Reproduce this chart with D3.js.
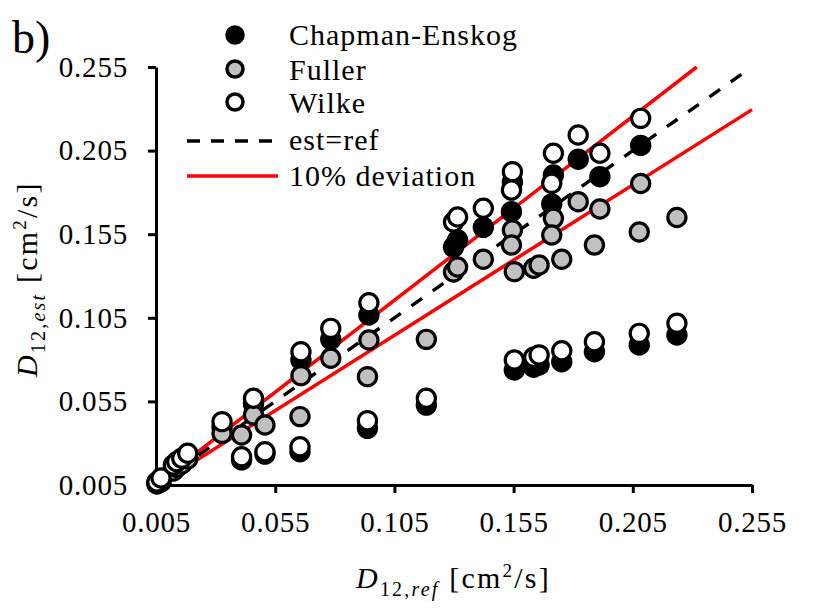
<!DOCTYPE html>
<html><head><meta charset="utf-8">
<script src="https://cdn.jsdelivr.net/npm/d3@7"></script>
<style>
html,body{margin:0;padding:0;background:#fff;}
svg{display:block;font-family:"Liberation Serif","Times New Roman",serif;}
</style></head><body>
<svg id="chart" width="815" height="609"></svg>
<script>
// reference diffusion coefficients [cm2/s]
const refValues     = [0.0054,0.0071,0.0123,0.0137,0.0158,0.0183,0.0327,0.0409,0.0459,0.0507,0.0658,0.0654,0.0783,0.0943,0.0937,0.1184,0.1298,0.1315,0.1423,0.1545,0.1541,0.1553,0.1634,0.1657,0.1717,0.1710,0.1752,0.1821,0.1889,0.1912,0.2083,0.2077,0.2235];
const chapmanEnskog = [0.0062,0.0074,0.0146,0.0167,0.0188,0.0217,0.0397,0.0200,0.0534,0.0235,0.0798,0.0249,0.0921,0.1067,0.0389,0.0528,0.1473,0.1515,0.1591,0.1862,0.1685,0.0738,0.0754,0.0768,0.1904,0.1731,0.0787,0.1998,0.0847,0.1894,0.2081,0.0887,0.0947];
const fuller        = [0.0056,0.0068,0.0134,0.0155,0.0176,0.0206,0.0359,0.0349,0.0469,0.0409,0.0704,0.0459,0.0808,0.0917,0.0698,0.0921,0.1324,0.1354,0.1400,0.1575,0.1485,0.1326,0.1346,0.1366,0.1645,0.1545,0.1400,0.1744,0.1485,0.1701,0.1853,0.1563,0.1650];
const wilke         = [0.0068,0.0092,0.0170,0.0189,0.0210,0.0240,0.0429,0.0219,0.0569,0.0249,0.0847,0.0279,0.0987,0.1140,0.0435,0.0569,0.1623,0.1653,0.1705,0.1924,0.1814,0.0798,0.0814,0.0828,0.2034,0.1854,0.0853,0.2143,0.0907,0.2034,0.2243,0.0957,0.1017];
const tickValues = [0.005,0.055,0.105,0.155,0.205,0.255];
const seriesNames = ["Chapman-Enskog","Fuller","Wilke"];
const lineNames = ["est=ref","10% deviation"];
const deviation = 0.10;

const seriesData = [chapmanEnskog, fuller, wilke];
const seriesFill = ["#000000","#c0c0c0","#ffffff"];

const W = 815, H = 609;
const m = {left:156, right:63, top:67, bottom:124};
const iw = W - m.left - m.right, ih = H - m.top - m.bottom;

const svg = d3.select("#chart");
const g = svg.append("g").attr("transform", `translate(${m.left},${m.top})`);

const x = d3.scaleLinear().domain([0.005,0.255]).range([0, iw]);
const y = d3.scaleLinear().domain([0.005,0.255]).range([ih, 0]);
const fmt = d3.format(".3f");

// reference lines
const line = d3.line().x(d=>x(d[0])).y(d=>y(d[1]));
const lo = 0.005, hi = 0.255;
g.append("path").datum([[lo/(1-deviation),lo],[hi,hi*(1-deviation)]])
  .attr("d", line).attr("fill","none").attr("stroke","#ff0000").attr("stroke-width",3.5);
g.append("path").datum([[lo,lo*(1+deviation)],[hi/(1+deviation),hi]])
  .attr("d", line).attr("fill","none").attr("stroke","#ff0000").attr("stroke-width",3.5);
g.append("path").datum([[lo,lo],[hi,hi]])
  .attr("d", line).attr("fill","none").attr("stroke","#000").attr("stroke-width",3.4)
  .attr("stroke-dasharray","13,13");

// axes
const xAxis = g.append("g").attr("transform",`translate(0,${ih})`)
  .call(d3.axisBottom(x).tickValues(tickValues).tickFormat(fmt).tickSize(8).tickSizeOuter(0).tickPadding(18));
const yAxis = g.append("g")
  .call(d3.axisLeft(y).tickValues(tickValues).tickFormat(fmt).tickSize(8).tickSizeOuter(0).tickPadding(20));
[xAxis,yAxis].forEach(a=>{
  a.select(".domain").attr("stroke","#000").attr("stroke-width",3);
  a.selectAll(".tick line").attr("stroke","#000").attr("stroke-width",3);
  a.selectAll(".tick text").attr("fill","#000")
    .style("font-family",'"Liberation Serif","Times New Roman",serif')
    .style("font-size","29px").style("letter-spacing","0.8px");
});

// markers
seriesData.forEach((vals,si)=>{
  g.append("g").selectAll("circle").data(vals).join("circle")
    .attr("cx",(d,i)=>x(refValues[i])).attr("cy",d=>y(d)).attr("r",9.1)
    .attr("fill",seriesFill[si]).attr("stroke","#000").attr("stroke-width",3.2);
});

// axis titles
const xt = svg.append("text").attr("x",356).attr("y",588)
  .style("font-size","30px").style("letter-spacing","2.2px").attr("fill","#000");
xt.append("tspan").style("font-style","italic").text("D");
xt.append("tspan").attr("dy",8).style("font-size","20px").text("12,");
xt.append("tspan").style("font-size","20px").style("font-style","italic").text("ref");
xt.append("tspan").attr("dy",-8).text(" [cm");
xt.append("tspan").attr("dy",-11).style("font-size","19px").text("2");
xt.append("tspan").attr("dy",11).text("/s]");

const yt = svg.append("text").attr("transform","translate(37,377) rotate(-90)")
  .style("font-size","30px").style("letter-spacing","2.2px").attr("fill","#000");
yt.append("tspan").style("font-style","italic").text("D");
yt.append("tspan").attr("dy",8).style("font-size","20px").text("12,");
yt.append("tspan").style("font-size","20px").style("font-style","italic").text("est");
yt.append("tspan").attr("dy",-8).text(" [cm");
yt.append("tspan").attr("dy",-11).style("font-size","19px").text("2");
yt.append("tspan").attr("dy",11).text("/s]");

// panel label
svg.append("text").attr("x",12).attr("y",53).style("font-size","46px").attr("fill","#000").text("b)");

// legend
const legY = [35, 69, 102];
const legBase = [45, 80, 113];
seriesNames.forEach((n,i)=>{
  svg.append("circle").attr("cx",235).attr("cy",legY[i]).attr("r",8)
    .attr("fill",seriesFill[i]).attr("stroke","#000").attr("stroke-width",3.5);
  svg.append("text").attr("x",289).attr("y",legBase[i]).style("font-size","30px")
    .style("letter-spacing","1px").attr("fill","#000").text(n);
});
svg.append("line").attr("x1",187).attr("x2",278).attr("y1",141).attr("y2",141)
  .attr("stroke","#000").attr("stroke-width",3.4).attr("stroke-dasharray","13,11");
svg.append("text").attr("x",289).attr("y",150).style("font-size","30px")
  .style("letter-spacing","1px").attr("fill","#000").text(lineNames[0]);
svg.append("line").attr("x1",187).attr("x2",278).attr("y1",176).attr("y2",176)
  .attr("stroke","#ff0000").attr("stroke-width",3.5);
svg.append("text").attr("x",289).attr("y",186).style("font-size","30px")
  .style("letter-spacing","1px").attr("fill","#000").text(lineNames[1]);
</script>
</body></html>
